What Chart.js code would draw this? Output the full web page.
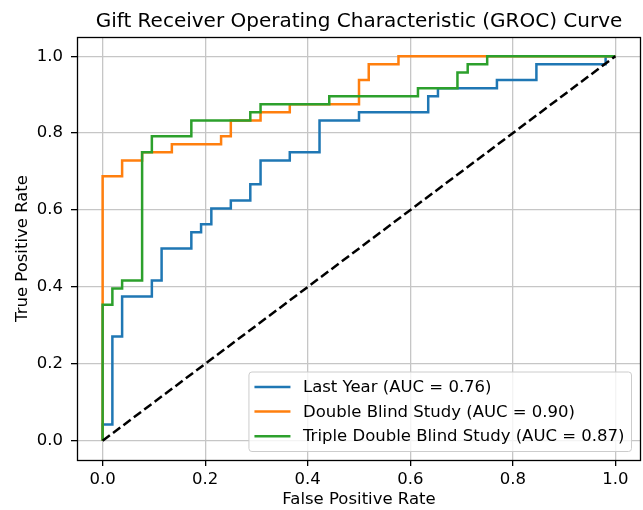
<!DOCTYPE html>
<html>
<head>
<meta charset="utf-8">
<script src="https://cdn.jsdelivr.net/npm/chart.js@4.4.1/dist/chart.umd.min.js"></script>
<style>
  html, body { margin: 0; padding: 0; background: #fff; }
  #wrap { width: 643px; height: 510px; }
</style>
</head>
<body>
<div id="wrap"><canvas id="roc-chart" width="643" height="510"></canvas></div>
<script>
// ROC corner points
const lastYearFpr = [0, 0, 0.019, 0.019, 0.038, 0.038, 0.096, 0.096, 0.115, 0.115, 0.173, 0.173, 0.192, 0.192, 0.212, 0.212, 0.25, 0.25, 0.288, 0.288, 0.308, 0.308, 0.365, 0.365, 0.423, 0.423, 0.5, 0.5, 0.635, 0.635, 0.654, 0.654, 0.769, 0.769, 0.846, 0.846, 0.981, 0.981, 1];
const lastYearTpr = [0, 0.042, 0.042, 0.271, 0.271, 0.375, 0.375, 0.417, 0.417, 0.5, 0.5, 0.542, 0.542, 0.563, 0.563, 0.604, 0.604, 0.625, 0.625, 0.667, 0.667, 0.729, 0.729, 0.75, 0.75, 0.833, 0.833, 0.854, 0.854, 0.896, 0.896, 0.917, 0.917, 0.938, 0.938, 0.979, 0.979, 1, 1];

const doubleFpr = [0, 0, 0.038, 0.038, 0.077, 0.077, 0.135, 0.135, 0.231, 0.231, 0.25, 0.25, 0.308, 0.308, 0.365, 0.365, 0.5, 0.5, 0.519, 0.519, 0.577, 0.577, 1];
const doubleTpr = [0, 0.688, 0.688, 0.729, 0.729, 0.75, 0.75, 0.771, 0.771, 0.792, 0.792, 0.833, 0.833, 0.854, 0.854, 0.875, 0.875, 0.938, 0.938, 0.979, 0.979, 1, 1];

const tripleFpr = [0, 0, 0.019, 0.019, 0.038, 0.038, 0.077, 0.077, 0.096, 0.096, 0.173, 0.173, 0.288, 0.288, 0.308, 0.308, 0.442, 0.442, 0.615, 0.615, 0.692, 0.692, 0.712, 0.712, 0.75, 0.75, 1];
const tripleTpr = [0, 0.354, 0.354, 0.396, 0.396, 0.417, 0.417, 0.75, 0.75, 0.792, 0.792, 0.833, 0.833, 0.854, 0.854, 0.875, 0.875, 0.896, 0.896, 0.917, 0.917, 0.958, 0.958, 0.979, 0.979, 1, 1];

const chanceFpr = [0, 1];
const chanceTpr = [0, 1];

const seriesLabels = ['Last Year (AUC = 0.76)', 'Double Blind Study (AUC = 0.90)', 'Triple Double Blind Study (AUC = 0.87)'];
const tickValues = [0.0, 0.2, 0.4, 0.6, 0.8, 1.0];

const colors = ['#1f77b4', '#ff7f0e', '#2ca02c'];
const FONT = "'DejaVu Sans', sans-serif";
const FS = 16.5;

function toPoints(xs, ys) {
  return xs.map((x, i) => ({x: x, y: ys[i]}));
}

// frame, title and in-axes legend the matplotlib way
const mplExtras = {
  id: 'mplExtras',
  afterDraw(chart) {
    const ctx = chart.ctx;
    const a = chart.chartArea;
    ctx.save();
    // spines
    ctx.strokeStyle = '#000';
    ctx.lineWidth = 1.3;
    ctx.strokeRect(Math.round(a.left) + 0.5, Math.round(a.top) + 0.5, Math.round(a.right - a.left) - 1, Math.round(a.bottom - a.top));

    // title
    ctx.fillStyle = '#000';
    ctx.font = '20px ' + FONT;
    ctx.textAlign = 'center';
    ctx.textBaseline = 'middle';
    ctx.fillText('Gift Receiver Operating Characteristic (GROC) Curve', (a.left + a.right) / 2, 22);

    // legend
    ctx.font = FS + 'px ' + FONT;
    let maxW = 0;
    seriesLabels.forEach(t => { maxW = Math.max(maxW, ctx.measureText(t).width); });
    const right = a.right - 9.5;
    const bottom = a.bottom - 8.5;
    const w = 5.5 + 36 + 12.5 + maxW + 7;
    const h = 79.5;
    const left = right - w;
    const top = bottom - h;
    ctx.beginPath();
    ctx.roundRect(left, top, w, h, 3);
    ctx.fillStyle = 'rgba(255,255,255,0.8)';
    ctx.fill();
    ctx.strokeStyle = '#cccccc';
    ctx.lineWidth = 1;
    ctx.stroke();
    seriesLabels.forEach((t, i) => {
      const y = top + 15 + i * 24.6;
      ctx.beginPath();
      ctx.moveTo(left + 5.5, y);
      ctx.lineTo(left + 41.5, y);
      ctx.strokeStyle = colors[i];
      ctx.lineWidth = 2.5;
      ctx.stroke();
      ctx.fillStyle = '#000';
      ctx.textAlign = 'left';
      ctx.textBaseline = 'middle';
      ctx.fillText(t, left + 54, y + 1);
    });
    ctx.restore();
  }
};

const lineStyle = {showLine: true, pointRadius: 0, borderWidth: 2.5, tension: 0, fill: false};

new Chart(document.getElementById('roc-chart'), {
  type: 'scatter',
  data: {
    datasets: [
      Object.assign({label: seriesLabels[0], data: toPoints(lastYearFpr, lastYearTpr), borderColor: colors[0], backgroundColor: colors[0], order: 4}, lineStyle),
      Object.assign({label: seriesLabels[1], data: toPoints(doubleFpr, doubleTpr), borderColor: colors[1], backgroundColor: colors[1], order: 3}, lineStyle),
      Object.assign({label: seriesLabels[2], data: toPoints(tripleFpr, tripleTpr), borderColor: colors[2], backgroundColor: colors[2], order: 2}, lineStyle),
      Object.assign({label: 'chance', data: toPoints(chanceFpr, chanceTpr), borderColor: '#000', backgroundColor: '#000', borderDash: [9, 4], order: 1}, lineStyle),
    ],
  },
  options: {
    responsive: false,
    animation: false,
    devicePixelRatio: 1,
    layout: {padding: {top: 37, right: 2, left: 0, bottom: 0}},
    plugins: {
      legend: {display: false},
      title: {display: false},
      tooltip: {enabled: false},
    },
    scales: {
      x: {
        type: 'linear',
        min: -0.05,
        max: 1.05,
        afterBuildTicks: axis => { axis.ticks = tickValues.map(v => ({value: v})); },
        afterFit: scale => { scale.height = 50; },
        ticks: {color: '#000', font: {family: FONT, size: FS}, padding: 4, maxRotation: 0, callback: v => v.toFixed(1)},
        grid: {color: '#c6c6c6', lineWidth: 1.3, tickColor: '#000', tickLength: 6, tickWidth: 1.3},
        border: {display: false},
        title: {display: true, text: 'False Positive Rate', color: '#000', font: {family: FONT, size: FS}, padding: {top: 0, bottom: 0}},
      },
      y: {
        type: 'linear',
        min: -0.05,
        max: 1.05,
        afterBuildTicks: axis => { axis.ticks = tickValues.map(v => ({value: v})); },
        afterFit: scale => { scale.width = 77; },
        ticks: {color: '#000', font: {family: FONT, size: FS}, padding: 8, callback: v => v.toFixed(1)},
        grid: {color: '#c6c6c6', lineWidth: 1.3, tickColor: '#000', tickLength: 6, tickWidth: 1.3},
        border: {display: false},
        title: {display: true, text: 'True Positive Rate', color: '#000', font: {family: FONT, size: FS}, padding: {top: 13, bottom: 0}},
      },
    },
  },
  plugins: [mplExtras],
});
</script>
</body>
</html>
